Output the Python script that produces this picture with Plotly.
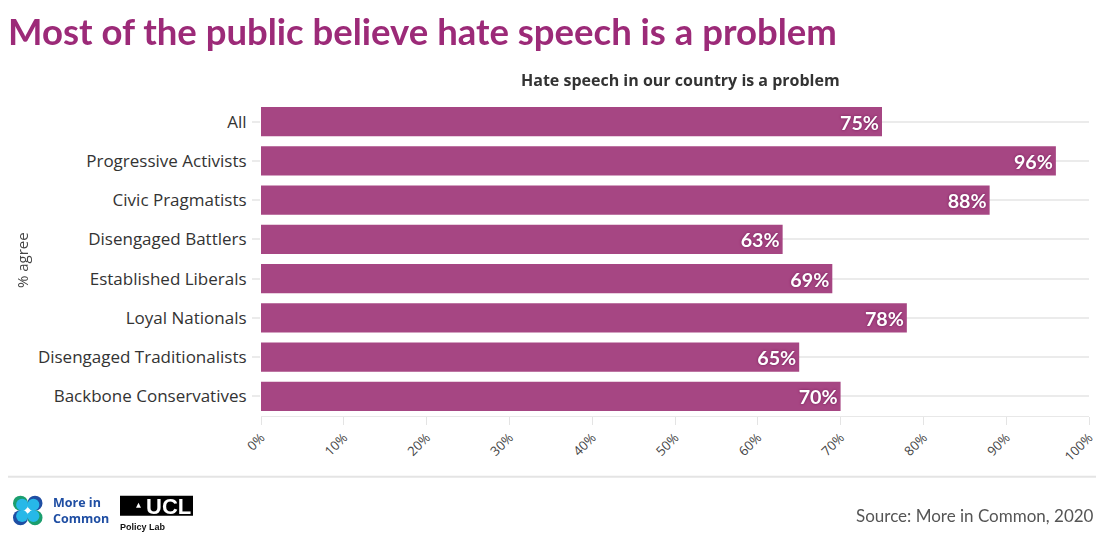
import plotly.graph_objects as go

categories = ["All", "Progressive Activists", "Civic Pragmatists", "Disengaged Battlers",
              "Established Liberals", "Loyal Nationals", "Disengaged Traditionalists",
              "Backbone Conservatives"]
values = [75, 96, 88, 63, 69, 78, 65, 70]
tick_vals = [0, 10, 20, 30, 40, 50, 60, 70, 80, 90, 100]
tick_text = [f"{v}%" for v in tick_vals]

title = "Most of the public believe hate speech is a problem"
subtitle = "Hate speech in our country is a problem"
source = "Source: More in Common, 2020"

BAR = "#a33e7e"
TITLE_C = "#9c2a78"

# page geometry (browser adds an 8px body margin on every side)
OFF = 8
W, H = 1104 - 2 * OFF, 540 - 2 * OFF
PL, PR, PT, PB = 261, 1089, 101.7, 416.2  # plot area in page pixels


def fx(x):
    return (x - PL) / (PR - PL)


def fy(y):
    return (PB - y) / (PB - PT)


fig = go.Figure(go.Bar(
    y=categories, x=values, orientation="h",
    marker=dict(color=BAR, line=dict(width=0)), opacity=0.96,
    text=[f"{v}%" for v in values], textposition="inside", insidetextanchor="end",
    textfont=dict(family="Lato", size=21, color="white", weight="bold",
                  shadow="0px 0px 3px #6e1452"),
    cliponaxis=False, hoverinfo="skip",
))

fig.update_layout(
    width=W, height=H,
    margin=dict(l=PL - OFF, r=W - (PR - OFF), t=PT - OFF, b=H - (PB - OFF), pad=0),
    paper_bgcolor="white", plot_bgcolor="white",
    bargap=0.25, showlegend=False,
    font=dict(family="Open Sans", color="#333333"),
    xaxis=dict(range=[0, 100], tickvals=tick_vals, ticktext=tick_text, tickangle=-45,
               showgrid=False, zeroline=False, showline=True, linecolor="#e8e8e8", linewidth=1,
               ticks="outside", ticklen=8, tickcolor="#e4e4e4", tickwidth=1,
               ticklabeloverflow="allow", automargin=False,
               tickfont=dict(family="Open Sans", size=13, color="#444444")),
    yaxis=dict(categoryorder="array", categoryarray=categories[::-1],
               showgrid=True, gridcolor="#ebebeb", gridwidth=2,
               ticks="outside", ticklen=8, tickcolor="#ebebeb", tickwidth=2,
               ticklabelstandoff=2, showline=False, zeroline=False, automargin=False,
               tickfont=dict(family="Open Sans", size=17, color="#333333")),
)

fig.add_annotation(text=title, xref="paper", yref="paper", x=fx(6), y=fy(31),
                   xanchor="left", yanchor="middle", showarrow=False,
                   font=dict(family="Lato", size=36.5, color=TITLE_C, weight="bold"))
fig.add_annotation(text=subtitle, xref="paper", yref="paper", x=fx(680), y=fy(80),
                   xanchor="center", yanchor="middle", showarrow=False,
                   font=dict(family="Open Sans", size=16, color="#333333", weight="bold"))
fig.add_annotation(text="% agree", xref="paper", yref="paper", x=fx(22), y=fy(260),
                   textangle=-90, xanchor="center", yanchor="middle", showarrow=False,
                   font=dict(family="Open Sans", size=15, color="#444444"))
fig.add_annotation(text=source, xref="paper", yref="paper", x=fx(1096), y=fy(516),
                   xanchor="right", yanchor="middle", showarrow=False,
                   font=dict(family="Lato", size=17, color="#555555"))

# separator line
fig.add_shape(type="line", xref="paper", yref="paper", x0=fx(8), x1=fx(1096),
              y0=fy(477), y1=fy(477), line=dict(color="#e4e4e4", width=2))

# More in Common logo
outer = [(20.5, 503.5, "#1b9e6e"), (35, 503.5, "#1f4ea3"), (20.5, 518, "#1f4ea3"), (35, 518, "#1b9e6e")]
for cx, cy, col in outer:
    r = 7.5
    fig.add_shape(type="circle", xref="paper", yref="paper",
                  x0=fx(cx - r), x1=fx(cx + r), y0=fy(cy + r), y1=fy(cy - r),
                  fillcolor=col, line=dict(width=0))
for cx, cy, _ in outer:
    r = 6
    ix = cx + (1.6 if cx < 27 else -1.6)
    iy = cy + (1.6 if cy < 510 else -1.6)
    fig.add_shape(type="circle", xref="paper", yref="paper",
                  x0=fx(ix - r), x1=fx(ix + r), y0=fy(iy + r), y1=fy(iy - r),
                  fillcolor="#27b8e8", line=dict(width=0))
fig.add_shape(type="circle", xref="paper", yref="paper",
              x0=fx(25.5), x1=fx(30), y0=fy(513), y1=fy(508.5),
              fillcolor="white", line=dict(width=0))
fig.add_annotation(text="More in<br>Common", xref="paper", yref="paper", x=fx(51), y=fy(511),
                   xanchor="left", yanchor="middle", showarrow=False, align="left",
                   font=dict(family="Open Sans", size=12.5, color="#1f4ea3", weight="bold"))

# UCL Policy Lab logo
fig.add_shape(type="rect", xref="paper", yref="paper",
              x0=fx(120), x1=fx(193), y0=fy(516), y1=fy(496),
              fillcolor="black", line=dict(width=0))
fig.add_shape(type="path", xref="paper", yref="paper",
              path=f"M {fx(136)} {fy(508)} L {fx(141)} {fy(508)} L {fx(138.5)} {fy(503)} Z",
              fillcolor="white", line=dict(width=0))
fig.add_annotation(text="UCL", xref="paper", yref="paper", x=fx(193), y=fy(507),
                   xanchor="right", yanchor="middle", showarrow=False,
                   font=dict(family="Liberation Sans", size=22, color="white", weight="bold"))
fig.add_annotation(text="Policy Lab", xref="paper", yref="paper", x=fx(118), y=fy(527),
                   xanchor="left", yanchor="middle", showarrow=False,
                   font=dict(family="Liberation Sans", size=9, color="#111111", weight="bold"))

fig.write_html("out.html")
